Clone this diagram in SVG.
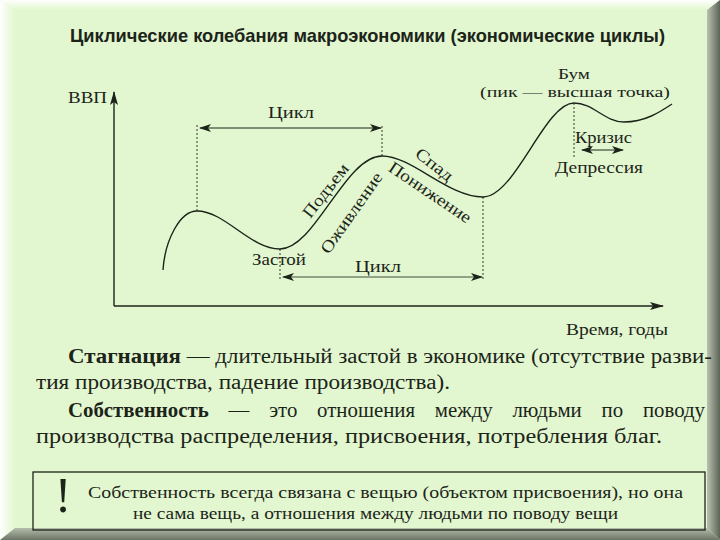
<svg xmlns="http://www.w3.org/2000/svg" width="720" height="540" viewBox="0 0 720 540">
<defs>
<linearGradient id="gl" x1="0" y1="0" x2="1" y2="0"><stop offset="0" stop-color="#ffffff"/><stop offset="1" stop-color="#e2f7cf"/></linearGradient>
<linearGradient id="gt" x1="0" y1="0" x2="0" y2="1"><stop offset="0" stop-color="#ffffff"/><stop offset="1" stop-color="#e2f7cf"/></linearGradient>
<linearGradient id="gr" x1="0" y1="0" x2="1" y2="0"><stop offset="0" stop-color="#b9c2b0"/><stop offset="1" stop-color="#5c6456"/></linearGradient>
<linearGradient id="gb" x1="0" y1="0" x2="0" y2="1"><stop offset="0" stop-color="#b4bcaa"/><stop offset="1" stop-color="#6c7466"/></linearGradient>
<marker id="ah" viewBox="0 0 12 8" refX="11" refY="4" markerWidth="12" markerHeight="8" markerUnits="userSpaceOnUse" orient="auto-start-reverse"><path d="M0,0 L12,4 L0,8 L3,4 Z" fill="#1c241a"/></marker>
<marker id="ax" viewBox="0 0 14 8" refX="13" refY="4" markerWidth="14" markerHeight="8" markerUnits="userSpaceOnUse" orient="auto"><path d="M0,0 L14,4 L0,8 L3,4 Z" fill="#1c241a"/></marker>
</defs>
<style>
.s{font-family:"Liberation Serif","DejaVu Serif",serif;fill:#1c241a}
.lbl{font-size:17px}
.sm{font-size:15.5px}
.par{font-size:20px}
.box{font-size:17.5px}
.b{font-weight:bold}
.ln{stroke:#1c241a;fill:none}
.dot{stroke:#1c241a;stroke-width:0.9;stroke-dasharray:2 2;fill:none}
</style>
<rect width="720" height="540" fill="#e2f7cf"/>
<polygon points="0,0 15,10 15,528 0,540" fill="url(#gl)"/>
<polygon points="0,0 720,0 707,10 15,10" fill="url(#gt)"/>
<polygon points="720,0 720,540 707,528 707,10" fill="url(#gr)"/>
<polygon points="0,540 720,540 707,528 15,528" fill="url(#gb)"/>

<g id="title"><text x="70" y="42" font-family="Liberation Sans,Arial,sans-serif" font-weight="bold" font-size="19" fill="#1c241a" textLength="595" lengthAdjust="spacingAndGlyphs">Циклические колебания макроэкономики (экономические циклы)</text></g>

<g id="connectors">
<path class="ln" stroke-width="1.4" d="M114,306 V92" marker-end="url(#ax)"/>
<path class="ln" stroke-width="1.4" d="M114,306 H663" marker-end="url(#ax)"/>
<path class="ln" stroke-width="1.4" d="M163,270 C165,240 180,211 197,211 C225,211 250,249 280,249 C315,249 345,156 382,156 C412,156 448,197 483,197 C515,197 545,103 574,103 C593,103 605,122 624,122 C645,122 660,112 672,104"/>
<path class="dot" d="M197,125 V211 M382,126 V156 M280,249 V281 M483,197 V281 M574,103 V158"/>
<path class="ln" stroke-width="1" d="M200,128 H381" marker-start="url(#ah)" marker-end="url(#ah)"/>
<path class="ln" stroke-width="0.8" d="M283,277 H482" marker-start="url(#ah)" marker-end="url(#ah)"/>
<path class="ln" stroke-width="1" d="M582,150 H623" marker-start="url(#ah)" marker-end="url(#ah)"/>
</g>

<g id="labels">
<text class="s lbl" x="68" y="103" textLength="39" lengthAdjust="spacingAndGlyphs">ВВП</text>
<text class="s lbl" x="268" y="118" textLength="46" lengthAdjust="spacingAndGlyphs">Цикл</text>
<text class="s lbl" x="252" y="265" textLength="54" lengthAdjust="spacingAndGlyphs">Застой</text>
<text class="s lbl" x="355" y="272" textLength="46" lengthAdjust="spacingAndGlyphs">Цикл</text>
<text class="s sm" x="558" y="79" textLength="32" lengthAdjust="spacingAndGlyphs">Бум</text>
<text class="s sm" x="480" y="97" textLength="190" lengthAdjust="spacingAndGlyphs">(пик — высшая точка)</text>
<text class="s lbl" x="575" y="143" textLength="57" lengthAdjust="spacingAndGlyphs">Кризис</text>
<text class="s lbl" x="555" y="173" textLength="88" lengthAdjust="spacingAndGlyphs">Депрессия</text>
<text class="s lbl" x="566" y="335" textLength="102" lengthAdjust="spacingAndGlyphs">Время, годы</text>
<text class="s lbl" text-anchor="middle" transform="translate(330,194) rotate(-52)" textLength="64" lengthAdjust="spacingAndGlyphs">Подъем</text>
<text class="s lbl" text-anchor="middle" transform="translate(356,216) rotate(-55)" textLength="95" lengthAdjust="spacingAndGlyphs">Оживление</text>
<text class="s lbl" text-anchor="middle" transform="translate(431,169) rotate(38)" textLength="43" lengthAdjust="spacingAndGlyphs">Спад</text>
<text class="s lbl" text-anchor="middle" transform="translate(427,197) rotate(34)" textLength="96" lengthAdjust="spacingAndGlyphs">Понижение</text>
</g>

<g id="paragraphs">
<text class="s par" x="68" y="363" textLength="644" lengthAdjust="spacingAndGlyphs"><tspan class="b">Стагнация</tspan> — длительный застой в экономике (отсутствие разви-</text>
<text class="s par" x="36" y="389" textLength="414" lengthAdjust="spacingAndGlyphs">тия производства, падение производства).</text>
<text class="s par" x="68" y="417" textLength="637" lengthAdjust="spacingAndGlyphs" word-spacing="14"><tspan class="b">Собственность</tspan> — это отношения между людьми по поводу</text>
<text class="s par" x="36" y="443" textLength="626" lengthAdjust="spacingAndGlyphs">производства распределения, присвоения, потребления благ.</text>
</g>

<g id="note">
<rect x="33" y="472" width="672" height="58" fill="none" stroke="#1c241a" stroke-width="1.3"/>
<text x="63" y="512" text-anchor="middle" font-family="Liberation Serif,serif" font-size="50" fill="#1c241a">!</text>
<text class="s box" x="88" y="498" textLength="595" lengthAdjust="spacingAndGlyphs">Собственность всегда связана с вещью (объектом присвоения), но она</text>
<text class="s box" x="133" y="519" textLength="485" lengthAdjust="spacingAndGlyphs">не сама вещь, а отношения между людьми по поводу вещи</text>
</g>
</svg>
